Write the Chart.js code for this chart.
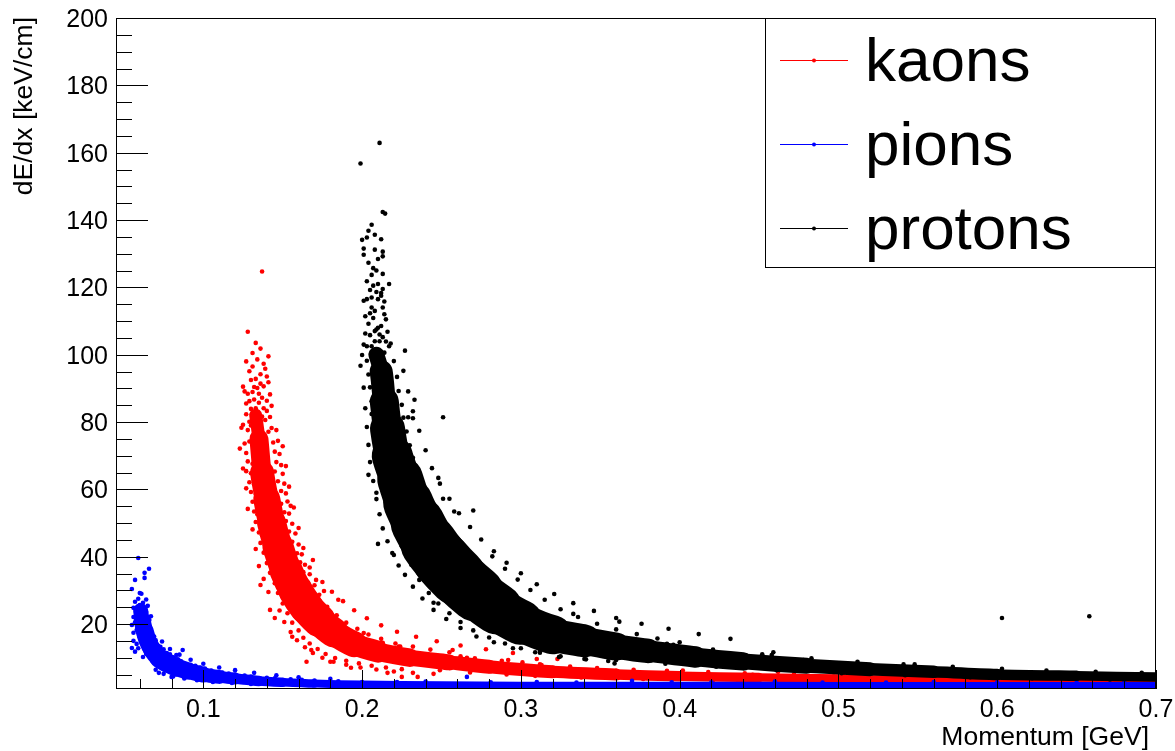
<!DOCTYPE html>
<html>
<head>
<meta charset="utf-8">
<title>dE/dx vs Momentum</title>
<script src="https://cdn.jsdelivr.net/npm/chart.js@4.4.1/dist/chart.umd.min.js"></script>
<style>
  html, body { margin: 0; padding: 0; background: #ffffff; }
</style>
</head>
<body>
<canvas id="chartDedx" width="1175" height="751"></canvas>
<script>
// Ejes: rango, marcas y etiquetas
const rangoX = [0.045, 0.7];
const rangoY = [0.7, 200];
const ticksX = [0.1, 0.2, 0.3, 0.4, 0.5, 0.6, 0.7];
const etiquetasX = ["0.1", "0.2", "0.3", "0.4", "0.5", "0.6", "0.7"];
const ticksY = [20, 40, 60, 80, 100, 120, 140, 160, 180, 200];
const etiquetasY = ["20", "40", "60", "80", "100", "120", "140", "160", "180", "200"];
const tituloX = "Momentum [GeV]";
const tituloY = "dE/dx [keV/cm]";

// Leyenda
const nombres = ["kaons", "pions", "protons"];

// Cresta de cada banda (momento, dE/dx)
const kaonesCrestaP = [0.133, 0.135, 0.137, 0.140, 0.143, 0.147, 0.152, 0.158, 0.165, 0.173, 0.182, 0.195, 0.210, 0.230, 0.255, 0.280, 0.320, 0.360, 0.400, 0.450, 0.500, 0.550, 0.600, 0.650, 0.700];
const kaonesCrestaV = [82, 75, 65, 57, 50, 43, 36, 30, 25, 21, 17.5, 14, 11.8, 10, 8.6, 7.3, 5.8, 5.0, 4.5, 4.1, 3.8, 3.6, 3.5, 3.4, 3.3];

const pionesCrestaP = [0.0605, 0.0615, 0.063, 0.065, 0.068, 0.072, 0.077, 0.083, 0.090, 0.100, 0.110, 0.120, 0.135, 0.150, 0.170, 0.200, 0.250, 0.300, 0.400, 0.500, 0.600, 0.700];
const pionesCrestaV = [24, 21, 18, 15, 12.3, 10, 8.5, 7.2, 6.1, 5.0, 4.3, 3.8, 3.1, 2.7, 2.3, 2.0, 1.8, 1.7, 1.7, 1.6, 1.6, 1.6];

const protonesCrestaP = [0.209, 0.212, 0.214, 0.216, 0.219, 0.224, 0.229, 0.235, 0.242, 0.250, 0.260, 0.272, 0.285, 0.300, 0.320, 0.340, 0.360, 0.380, 0.410, 0.440, 0.480, 0.520, 0.560, 0.600, 0.650, 0.700];
const protonesCrestaV = [100, 95, 86, 78, 70, 63, 56, 50, 44, 39, 34, 29, 24.5, 20.5, 16.8, 15.0, 13.3, 12.0, 10.2, 8.9, 7.6, 6.6, 5.8, 5.0, 4.6, 4.3];

// Puntos sueltos alrededor de cada banda (momento, dE/dx)
const kaonesPuntos = [
  [.137,124.7],[.128,106.8],[.133,103.5],[.136,101.8],[.141,99.5],[.131,96.5],[.138,97.3],[.139,95.8],[.130,92.5],[.125,90.5],[.126,89.1],[.132,90.4],[.134,90.1],[.140,93.5],[.141,91.8],[.137,87.2],[.140,86.3],[.130,83.9],[.133,84.1],[.125,79.2],[.132,81.2],[.136,78.8],[.139,80.6],[.142,81.5],[.141,77.1],[.143,78.2],[.134,76.4],[.131,75.8],[.129,86.2],[.135,88.4],[.138,84.1],[.127,82.3],[.128,77.6],
  [.127,98.0],[.129,95.1],[.131,100.5],[.134,98.6],[.136,94.2],[.133,92.8],[.128,88.4],[.131,88.9],[.135,85.7],[.138,90.6],[.142,88.2],[.127,85.5],[.134,82.9],[.137,81.6],[.129,80.1],[.140,83.3],[.143,84.8],[.132,86.7],[.136,91.4],[.130,79.0],
  [.126,73.6],[.129,74.2],[.144,73.9],[.147,74.4],[.127,70.8],[.145,71.2],[.148,70.5],[.128,68.3],[.131,67.6],[.146,68.1],[.149,67.2],[.127,65.4],[.130,64.8],[.145,65.3],[.150,64.6],[.129,62.1],[.132,61.5],[.147,62.4],[.151,61.7],[.130,59.2],[.133,58.6],[.149,59.5],[.152,58.8],[.131,56.3],[.149,55.7],[.153,56.4],[.155,55.1],[.132,53.4],[.134,52.6],[.151,53.2],[.154,52.8],[.133,50.3],[.136,49.5],[.152,50.6],[.156,49.8],[.135,47.2],[.137,46.4],[.154,47.5],[.158,46.9],[.136,44.1],[.139,43.3],[.156,44.4],[.160,43.6],[.138,41.2],[.140,40.5],[.159,41.0],[.162,40.7],[.140,38.1],[.143,37.4],[.161,38.3],[.164,37.6],[.142,35.2],[.145,34.5],[.163,35.4],[.167,34.8],[.145,32.1],[.136,31.6],[.166,32.3],[.170,31.5],[.147,29.2],[.150,28.6],[.169,29.4],[.173,28.7],[.169,39.0],
  [.124,78.3],[.146,77.6],[.123,72.1],[.150,72.8],[.125,66.2],[.152,66.9],[.127,60.3],[.154,60.8],[.128,54.2],[.157,54.6],[.131,48.1],[.160,48.5],[.133,42.3],[.163,42.6],[.135,37.2],[.167,36.8],[.138,33.4],[.171,33.1],[.141,29.5],[.176,29.8],
  [.150,26.1],[.153,23.2],[.156,20.4],[.160,18.1],[.163,15.9],[.167,14.2],[.172,12.6],[.177,11.1],[.183,9.9],[.190,9.1],[.198,8.3],[.206,7.6],[.215,7.1],[.225,6.6],
  [.167,30.2],[.172,27.4],[.178,25.1],[.184,22.6],[.190,20.4],[.197,18.6],[.204,16.9],[.212,15.6],[.221,14.2],[.232,13.3],[.243,12.4],[.255,11.6],
  [.148,24.0],[.151,20.6],[.155,17.6],[.159,15.2],[.164,13.1],[.169,11.4],[.175,10.0],[.182,8.8],[.190,7.9],[.199,7.1],[.209,6.5],[.220,5.9],[.232,5.5],[.245,5.2],
  [.175,32.5],[.181,29.6],[.188,26.8],[.195,24.1],[.203,21.7],[.212,19.6],[.222,17.7],[.234,16.2],[.247,14.9],[.262,13.6],[.278,12.5],[.295,11.4],
  [.142,24.2],[.145,21.8],[.156,16.2],[.165,8.8],[.168,12.3],[.180,8.8],[.193,7.0],[.216,5.5],[.225,4.3],[.235,4.3],[.185,27.2],[.201,17.3],[.213,14.4],[.223,13.3],
  [.240,11.0],[.262,10.4],[.271,9.8],[.288,9.1],[.301,8.6],[.312,8.0],[.331,7.4],[.348,6.9],[.371,6.4],[.392,6.1],[.418,5.7],[.441,5.4],[.472,5.1],[.503,4.9],[.534,4.7],[.571,4.5],[.612,4.4],[.658,4.3],[.688,4.2],
  [.249,6.3],[.268,5.6],[.291,5.0],[.309,4.6],[.338,4.1],[.377,3.7],[.421,3.3],[.468,3.0],[.522,2.8],[.581,2.7],[.633,2.6],[.676,2.6],
  [.257,12.3],[.266,10.0],[.310,9.6],[.323,9.6],[.360,6.1],[.246,10.5],[.224,13.3],[.292,9.3],[.313,7.8],[.213,14.1],[.359,5.2],[.402,6.2],[.462,5.8],[.518,5.3],[.446,4.9],[.497,4.4],[.545,4.1],[.597,3.9],[.642,3.8],[.584,5.0],[.619,4.8]
];

const pionesPuntos = [
  [.055,30.4],[.056,24.8],[.056,22.1],[.055,19.7],[.056,15.0],[.055,12.9],[.059,39.6],[.057,33.1],[.063,33.7],[.063,35.2],[.0658,36.4],[.060,29.2],[.061,29.0],[.062,26.3],[.061,16.7],[.062,10.2],[.072,5.5],[.080,4.3],[.083,10.8],[.087,12.3],
  [.056,17.4],[.057,20.5],[.057,26.6],[.058,23.4],[.058,18.2],[.058,14.1],[.059,27.5],[.059,21.1],[.060,25.6],[.060,16.1],[.064,27.3],[.064,23.6],[.065,25.4],[.066,21.2],[.066,18.4],[.067,22.3],[.063,12.6],[.064,11.2],[.057,11.8],[.059,12.8],
  [.067,17.1],[.070,15.2],[.073,13.2],[.077,11.4],[.081,10.1],[.086,8.9],[.092,7.9],[.098,7.1],[.105,6.2],[.112,5.6],[.120,5.0],[.130,4.4],[.140,4.0],[.155,3.6],[.170,3.2],[.185,3.0],[.200,2.8],
  [.069,16.3],[.075,12.5],[.079,11.0],[.084,9.5],[.095,7.6],[.101,6.8],[.116,5.3],[.126,4.7],[.145,3.9],[.162,3.4],
  [.066,10.4],[.069,9.1],[.073,7.6],[.078,6.5],[.084,5.6],[.090,4.8],[.097,4.2],[.105,3.6],[.115,3.1],[.125,2.8],[.140,2.4],[.160,2.1],
  [.071,8.2],[.076,7.1],[.082,5.9],[.088,5.3],[.094,4.5],[.102,3.9],[.110,3.4],
  [.074,14.8],[.079,12.6],[.085,10.9],[.092,9.4],[.100,8.2],[.110,7.1],[.120,6.3],[.132,5.5],[.146,4.8],[.160,4.2],[.180,3.7],
  [.070,6.4],[.075,5.2],[.081,4.4],[.088,3.8],[.096,3.3],[.106,2.8],[.118,2.5],[.130,2.2],
  [.222,2.8],[.240,2.9],[.266,4.3],[.281,2.7],[.310,2.8],[.335,2.6],[.370,3.1],[.395,2.7],[.420,2.7],[.460,2.9],[.490,2.6],[.530,2.6],[.560,2.8],[.600,2.7],[.650,2.6],[.680,2.7]
];

const protonesPuntos = [
  [.211,162.9],[.199,156.8],[.213,142.4],[.2145,141.9],[.206,138.6],[.204,136.8],[.200,134.1],[.203,134.8],[.208,135.6],[.212,134.3],[.201,131.5],[.208,131.2],[.213,130.6],[.213,129.2],[.201,129.7],[.207,125.7],[.209,125.0],[.206,123.7],[.213,124.0],[.207,120.5],[.210,121.0],[.213,119.5],[.212,118.3],[.217,121.0],[.201,116.0],[.203,116.5],[.206,117.0],[.206,114.0],[.205,112.3],[.208,113.0],[.210,116.5],[.212,117.5],[.213,114.0],[.214,112.0],[.210,108.0],[.212,108.5],[.209,107.5],[.211,106.0],[.208,107.0],[.201,103.0],[.203,102.5],[.206,102.5],[.208,104.0],[.211,104.0],[.217,102.5],[.218,103.3],[.227,101.2],[.199,96.7],[.233,86.6],[.251,81.4],[.229,81.4],[.232,81.1],[.215,110.5],[.204,109.2],[.216,106.8],[.202,106.3],
  [.204,127.3],[.210,128.4],[.203,121.8],[.205,119.2],[.209,118.6],[.214,115.8],[.207,110.9],[.202,111.4],[.213,105.2],[.205,105.8],[.207,101.1],[.214,100.6],[.215,103.9],[.200,99.9],
  [.203,98.2],[.204,94.1],[.205,90.3],[.206,86.2],[.206,82.4],[.207,78.1],[.208,74.3],[.209,70.2],[.211,66.4],[.212,62.1],[.214,58.3],[.216,55.2],[.218,52.1],[.220,49.3],[.222,46.2],[.225,43.1],[.228,40.2],[.231,37.6],
  [.220,98.1],[.222,93.4],[.223,89.2],[.225,85.1],[.226,81.3],[.228,77.2],[.230,73.1],[.232,69.4],[.235,65.2],[.238,61.3],[.241,58.1],[.245,54.3],[.249,51.2],[.253,48.1],[.258,45.3],[.263,42.1],[.268,39.2],
  [.201,90.2],[.202,84.1],[.203,78.5],[.204,73.2],[.205,68.1],[.207,62.5],[.209,57.1],[.211,52.6],[.213,48.4],[.216,44.6],[.219,41.1],[.223,37.4],[.227,34.6],[.232,31.1],[.238,27.6],[.245,24.2],[.253,21.5],[.262,18.8],[.272,16.3],[.283,14.6],[.295,12.8],[.309,11.6],[.324,10.2],[.341,9.5],
  [.226,95.2],[.229,89.1],[.232,83.2],[.236,77.4],[.240,71.6],[.244,66.3],[.249,61.7],[.255,57.2],[.261,52.9],[.268,48.8],[.275,45.1],[.283,41.6],[.291,38.2],[.300,35.1],[.310,31.8],[.321,28.9],[.333,26.2],[.346,23.9],[.360,21.8],[.376,20.1],[.393,18.6],[.412,17.0],[.432,15.6],
  [.204,64.3],[.209,59.0],[.210,43.8],[.248,63.4],[.251,57.2],[.258,53.4],[.270,53.7],[.220,40.5],
  [.236,33.1],[.242,29.2],[.248,26.1],[.255,23.2],[.262,20.6],[.270,18.1],[.280,16.0],[.290,14.2],[.300,12.8],[.312,11.5],[.325,10.4],[.340,9.6],[.355,9.0],
  [.282,40.1],[.290,36.4],[.298,33.2],[.306,30.1],[.315,27.2],[.325,24.4],[.336,22.1],[.348,20.1],[.360,18.4],[.373,17.0],[.386,15.7],[.400,14.6],
  [.245,26.3],[.333,23.0],[.362,20.7],[.312,12.0],[.360,9.3],
  [.392,14.1],[.421,12.4],[.452,11.0],[.483,9.8],[.512,8.8],[.541,8.0],[.572,7.3],[.603,6.7],[.631,6.2],[.662,5.8],[.691,5.5],
  [.391,8.2],[.423,7.3],[.461,6.3],[.502,5.4],[.542,4.8],[.583,4.2],[.622,3.9],[.671,3.5],
  [.377,12.6],[.398,12.9],[.359,8.3],[.431,10.3],[.459,11.6],[.457,9.8],[.461,8.5],[.478,9.3],[.483,8.5],[.548,8.0],[.558,6.3],[.603,21.8],[.658,22.3],[.396,13.8],[.458,10.8]
];

// Estilos
const ROJO = "#ff0000";
const AZUL = "#0000ff";
const NEGRO = "#000000";
const FUENTE = "'Liberation Sans', Arial, Helvetica, sans-serif";
// grosor (px) de la banda densa en cada punto de la cresta
const anchoKaones = [10, 16, 22, 26, 28, 30, 32, 34, 34, 32, 28, 24, 20, 17, 15, 13, 13, 11, 10, 9, 8, 7, 7, 7, 7];
const anchoPiones = [14, 16, 18, 18, 18, 19, 20, 18, 17, 15, 13, 11, 10, 9, 8, 8, 8, 8, 8, 8, 8, 8];
const anchoProtones = [12, 20, 26, 32, 38, 44, 48, 52, 56, 58, 58, 54, 48, 42, 36, 30, 26, 23, 20, 17, 15, 13, 12, 11, 10, 9];

function puntos(pares) {
  return pares.map(([x, y]) => ({ x, y }));
}

function cresta(ps, vs) {
  return ps.map((x, i) => ({ x, y: vs[i] }));
}

// Banda densa: línea gruesa a lo largo de la cresta
function serieBanda(label, ps, vs, anchos, color, order) {
  return {
    type: "line",
    label,
    data: cresta(ps, vs),
    borderColor: color,
    backgroundColor: color,
    borderWidth: anchos[0],
    borderCapStyle: "round",
    borderJoinStyle: "round",
    pointRadius: 0,
    tension: 0.3,
    fill: false,
    clip: 0,
    order,
    segment: {
      borderWidth: (ctx) => (anchos[ctx.p0DataIndex] + anchos[ctx.p1DataIndex]) / 2,
    },
  };
}

function seriePuntos(label, pares, color, order) {
  return {
    label,
    data: puntos(pares),
    backgroundColor: color,
    borderColor: color,
    pointRadius: 2.3,
    pointHoverRadius: 2.3,
    pointBorderWidth: 0,
    clip: 0,
    order,
  };
}

// Marco, marcas hacia dentro, etiquetas, títulos y leyenda
const ejesYLeyenda = {
  id: "ejesYLeyenda",
  afterDatasetsDraw(chart) {
    const { ctx, chartArea: a, scales } = chart;
    const x = scales.x, y = scales.y;
    ctx.save();
    ctx.strokeStyle = NEGRO;
    ctx.fillStyle = NEGRO;
    ctx.lineWidth = 1;

    ctx.strokeRect(a.left + 0.5, a.top + 0.5, a.right - a.left - 1, a.bottom - a.top - 1);

    ctx.beginPath();
    for (let v = 0.06; v < rangoX[1] + 0.001; v += 0.02) {
      const px = Math.round(x.getPixelForValue(v)) + 0.5;
      ctx.moveTo(px, a.bottom);
      ctx.lineTo(px, a.bottom - 10);
    }
    ticksX.forEach((v) => {
      const px = Math.round(x.getPixelForValue(v)) + 0.5;
      ctx.moveTo(px, a.bottom);
      ctx.lineTo(px, a.bottom - 19);
    });
    for (let v = 5; v < rangoY[1]; v += 5) {
      const py = Math.round(y.getPixelForValue(v)) + 0.5;
      ctx.moveTo(a.left, py);
      ctx.lineTo(a.left + 16, py);
    }
    ticksY.forEach((v) => {
      const py = Math.round(y.getPixelForValue(v)) + 0.5;
      ctx.moveTo(a.left, py);
      ctx.lineTo(a.left + 32, py);
    });
    ctx.stroke();

    ctx.font = "25px " + FUENTE;
    ctx.textBaseline = "alphabetic";
    ctx.textAlign = "center";
    ticksX.forEach((v, i) => ctx.fillText(etiquetasX[i], x.getPixelForValue(v), a.bottom + 28));
    ctx.textAlign = "right";
    ticksY.forEach((v, i) => ctx.fillText(etiquetasY[i], a.left - 8, y.getPixelForValue(v) + 9));

    ctx.font = "26.5px " + FUENTE;
    ctx.fillText(tituloX, a.right - 7, a.bottom + 56);
    ctx.save();
    ctx.translate(32, a.top - 1);
    ctx.rotate(-Math.PI / 2);
    ctx.fillText(tituloY, 0, 0);
    ctx.restore();

    // leyenda
    const lw = 391, lh = 250;
    const lx = a.right - lw, ly = a.top;
    ctx.fillStyle = "#ffffff";
    ctx.fillRect(lx, ly, lw, lh);
    ctx.strokeRect(lx + 0.5, ly + 0.5, lw - 1, lh - 1);
    const colores = [ROJO, AZUL, NEGRO];
    ctx.font = "62px " + FUENTE;
    ctx.textAlign = "left";
    nombres.forEach((nombre, i) => {
      const cy = ly + 42 + i * 84;
      ctx.strokeStyle = colores[i];
      ctx.beginPath();
      ctx.moveTo(lx + 15, cy + 0.5);
      ctx.lineTo(lx + 83, cy + 0.5);
      ctx.stroke();
      ctx.fillStyle = colores[i];
      ctx.beginPath();
      ctx.arc(lx + 49, cy + 0.5, 2, 0, Math.PI * 2);
      ctx.fill();
      ctx.fillStyle = NEGRO;
      ctx.fillText(nombre, lx + 100, cy + 21);
    });
    ctx.restore();
  },
};

new Chart(document.getElementById("chartDedx").getContext("2d"), {
  type: "scatter",
  data: {
    datasets: [
      serieBanda(nombres[0], kaonesCrestaP, kaonesCrestaV, anchoKaones, ROJO, 6),
      seriePuntos(nombres[0], kaonesPuntos, ROJO, 5),
      serieBanda(nombres[1], pionesCrestaP, pionesCrestaV, anchoPiones, AZUL, 4),
      seriePuntos(nombres[1], pionesPuntos, AZUL, 3),
      serieBanda(nombres[2], protonesCrestaP, protonesCrestaV, anchoProtones, NEGRO, 2),
      seriePuntos(nombres[2], protonesPuntos, NEGRO, 1),
    ],
  },
  options: {
    responsive: false,
    animation: false,
    events: [],
    layout: { padding: { left: 116, top: 18, right: 19, bottom: 62 } },
    scales: {
      x: { type: "linear", min: rangoX[0], max: rangoX[1], display: false },
      y: { type: "linear", min: rangoY[0], max: rangoY[1], display: false },
    },
    plugins: {
      legend: { display: false },
      tooltip: { enabled: false },
    },
  },
  plugins: [ejesYLeyenda],
});
</script>
</body>
</html>
